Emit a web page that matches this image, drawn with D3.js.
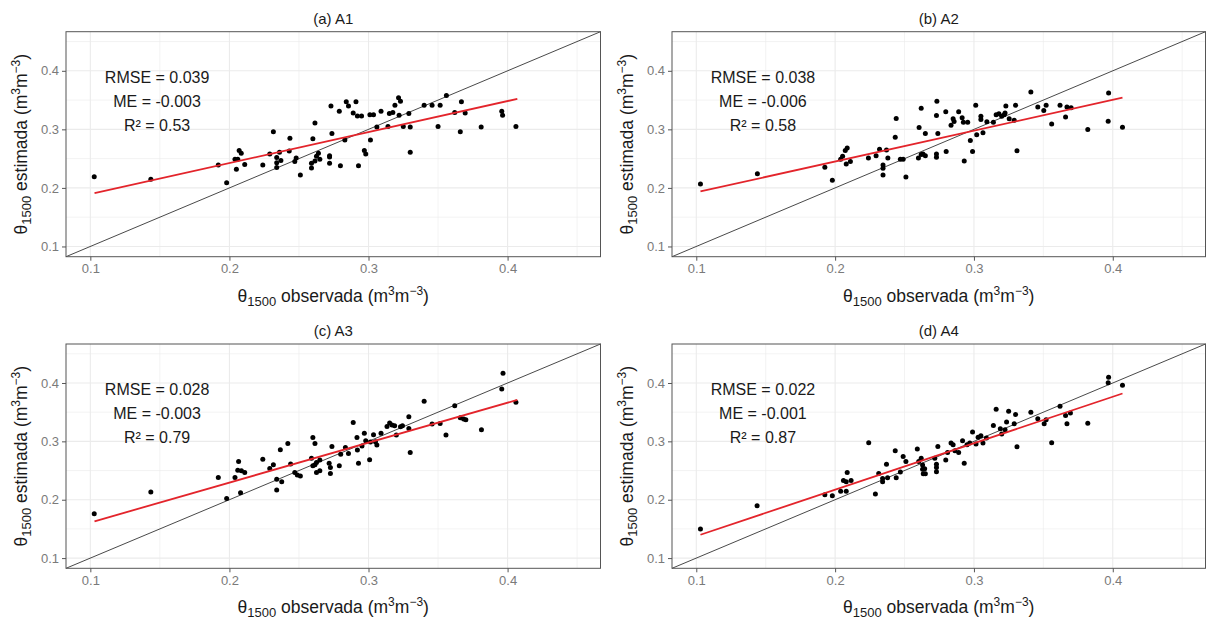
<!DOCTYPE html>
<html>
<head>
<meta charset="utf-8">
<script src="https://cdn.jsdelivr.net/npm/d3@7"></script>
<style>
  html, body { margin: 0; padding: 0; background: #ffffff; }
  svg { display: block; font-family: "Liberation Sans", Arial, sans-serif; }
</style>
</head>
<body>
<svg id="chart" width="1208" height="621"></svg>
<script>
// ---------------- DATA ----------------
const panelTitles = ["(a) A1", "(b) A2", "(c) A3", "(d) A4"];
const rmseValues = ["0.039", "0.038", "0.028", "0.022"];
const meValues = ["-0.003", "-0.006", "-0.003", "-0.001"];
const r2Values = ["0.53", "0.58", "0.79", "0.87"];
const majorTicks = [0.1, 0.2, 0.3, 0.4];
const minorTicks = [0.15, 0.25, 0.35, 0.45];
const tickLabels = ["0.1", "0.2", "0.3", "0.4"];

// fitted regression line (red): observed start/end and estimated values at those ends
const fitObs = [0.103, 0.407];
const fitStartEst = [0.191, 0.194, 0.163, 0.140];
const fitEndEst = [0.352, 0.354, 0.371, 0.382];

// Panel (a) A1
const a1Obs = [0.1028,0.1435,0.192,0.198,0.204,0.206,0.205,0.207,0.2085,0.211,0.224,0.229,0.2316,0.234,0.234,0.234,0.236,0.237,0.2435,0.243,0.247,0.248,0.251,0.260,0.259,0.2615,0.259,0.2615,0.2626,0.264,0.265,0.272,0.272,0.272,0.273,0.2737,0.279,0.2798,0.283,0.284,0.2856,0.289,0.291,0.292,0.295,0.2928,0.297,0.298,0.301,0.3036,0.3014,0.306,0.309,0.314,0.315,0.3175,0.319,0.3216,0.323,0.322,0.325,0.329,0.330,0.330,0.340,0.3457,0.350,0.3515,0.356,0.362,0.366,0.3668,0.3695,0.381,0.3958,0.3964,0.406];
const a1Est = [0.219,0.2147,0.239,0.209,0.249,0.249,0.232,0.264,0.259,0.240,0.239,0.258,0.296,0.252,0.243,0.235,0.261,0.247,0.285,0.263,0.245,0.251,0.222,0.284,0.242,0.311,0.234,0.246,0.254,0.259,0.249,0.255,0.253,0.242,0.340,0.293,0.331,0.238,0.282,0.347,0.340,0.328,0.347,0.323,0.323,0.238,0.264,0.258,0.325,0.325,0.282,0.304,0.331,0.305,0.327,0.329,0.341,0.354,0.348,0.324,0.305,0.327,0.304,0.261,0.341,0.341,0.305,0.341,0.358,0.329,0.296,0.347,0.328,0.304,0.331,0.324,0.305];

// Panel (b) A2
const a2Obs = [0.103,0.144,0.1926,0.198,0.204,0.2054,0.2073,0.2087,0.208,0.211,0.224,0.2295,0.232,0.2345,0.2345,0.2345,0.237,0.238,0.2433,0.244,0.247,0.249,0.251,0.260,0.262,0.2605,0.262,0.2633,0.265,0.265,0.273,0.2733,0.273,0.273,0.274,0.2797,0.280,0.2835,0.285,0.2857,0.289,0.2915,0.2924,0.2955,0.293,0.2974,0.299,0.3013,0.302,0.305,0.305,0.3065,0.3093,0.314,0.316,0.318,0.320,0.3218,0.3224,0.323,0.3254,0.329,0.330,0.331,0.341,0.346,0.3503,0.352,0.356,0.362,0.366,0.367,0.370,0.382,0.3967,0.397,0.407];
const a2Est = [0.2067,0.224,0.2353,0.213,0.249,0.254,0.264,0.268,0.241,0.245,0.251,0.255,0.266,0.239,0.2336,0.222,0.2646,0.251,0.2864,0.3185,0.249,0.249,0.2187,0.251,0.257,0.303,0.336,0.258,0.255,0.293,0.3237,0.348,0.258,0.2525,0.293,0.330,0.262,0.307,0.318,0.3134,0.330,0.320,0.312,0.312,0.246,0.281,0.262,0.341,0.291,0.3226,0.317,0.294,0.313,0.312,0.325,0.3266,0.3226,0.325,0.328,0.340,0.318,0.3157,0.341,0.2634,0.3638,0.338,0.332,0.341,0.309,0.341,0.321,0.338,0.337,0.2996,0.314,0.362,0.3036];

// Panel (c) A3
const a3Obs = [0.1028,0.1435,0.192,0.198,0.204,0.2066,0.206,0.2086,0.211,0.208,0.224,0.229,0.2316,0.234,0.234,0.2366,0.2376,0.242,0.244,0.247,0.2488,0.251,0.260,0.259,0.260,0.2615,0.2626,0.2615,0.2626,0.265,0.265,0.2717,0.2726,0.2726,0.2737,0.279,0.280,0.2834,0.2856,0.289,0.2917,0.292,0.2928,0.2953,0.297,0.298,0.3008,0.3014,0.3036,0.305,0.306,0.309,0.3133,0.3152,0.3169,0.3188,0.320,0.323,0.3244,0.329,0.329,0.330,0.340,0.3457,0.3515,0.3557,0.362,0.366,0.3684,0.370,0.3812,0.3958,0.3967,0.406];
const a3Est = [0.176,0.2134,0.238,0.202,0.238,0.2655,0.2506,0.2495,0.2466,0.212,0.2695,0.2535,0.260,0.235,0.2168,0.2855,0.2306,0.2964,0.261,0.2466,0.2425,0.2408,0.3065,0.271,0.258,0.2598,0.2638,0.2964,0.2466,0.2495,0.268,0.2626,0.255,0.245,0.2913,0.258,0.278,0.2896,0.2793,0.3325,0.3067,0.285,0.2626,0.292,0.314,0.301,0.2684,0.2988,0.3113,0.2993,0.2936,0.314,0.3256,0.3313,0.3279,0.3267,0.3107,0.325,0.3267,0.342,0.322,0.281,0.3685,0.3296,0.3307,0.3107,0.361,0.3405,0.3382,0.337,0.320,0.3897,0.4166,0.3668];

// Panel (d) A4
const a4Obs = [0.103,0.1438,0.1926,0.198,0.204,0.206,0.208,0.2087,0.208,0.2115,0.2242,0.229,0.2314,0.2342,0.2342,0.237,0.2378,0.2433,0.244,0.247,0.249,0.251,0.2592,0.2602,0.262,0.263,0.263,0.2635,0.265,0.2645,0.2718,0.273,0.273,0.273,0.274,0.2797,0.281,0.2835,0.285,0.2863,0.289,0.2918,0.293,0.295,0.297,0.299,0.3015,0.303,0.305,0.3065,0.309,0.314,0.316,0.319,0.320,0.3224,0.3235,0.325,0.329,0.330,0.331,0.341,0.346,0.3506,0.352,0.356,0.362,0.366,0.367,0.3695,0.382,0.3967,0.397,0.407];
const a4Est = [0.1497,0.1896,0.2087,0.207,0.2145,0.233,0.2306,0.2468,0.2145,0.233,0.2977,0.2098,0.245,0.2364,0.2306,0.2607,0.2376,0.2838,0.2376,0.2474,0.274,0.2653,0.2867,0.2653,0.271,0.2595,0.252,0.2445,0.2445,0.253,0.271,0.2607,0.255,0.248,0.2913,0.268,0.281,0.2971,0.2942,0.2838,0.281,0.3012,0.2624,0.2942,0.2971,0.3162,0.2954,0.3069,0.3098,0.2971,0.3058,0.3272,0.355,0.3214,0.3127,0.3197,0.333,0.3514,0.330,0.3462,0.2908,0.3497,0.3387,0.330,0.337,0.2977,0.360,0.3445,0.330,0.3486,0.3312,0.4006,0.4098,0.396];

const obsSeries = [a1Obs, a2Obs, a3Obs, a4Obs];
const estSeries = [a1Est, a2Est, a3Est, a4Est];

// ---------------- LAYOUT ----------------
const domain = [0.0825, 0.4668];
const panelBoxes = [
  {x0: 66,  x1: 600.5,  y0: 31.7, y1: 256.7},
  {x0: 672, x1: 1205.5, y0: 31.7, y1: 256.7},
  {x0: 66,  x1: 600.5,  y0: 344,  y1: 568.3},
  {x0: 672, x1: 1205.5, y0: 344,  y1: 568.3}
];
const annoX = 0.148;
const annoY = [0.389, 0.348, 0.307];

const svg = d3.select("#chart");
const gridColor = "#ebebeb";
const tickTextColor = "#7a7a7a";

function addAxisTitle(sel, main) {
  sel.append("tspan").text("θ");
  sel.append("tspan").attr("font-size", 13).attr("dy", 4).text("1500");
  sel.append("tspan").attr("dy", -4).text(" " + main + " (m");
  sel.append("tspan").attr("font-size", 12).attr("dy", -7).text("3");
  sel.append("tspan").attr("dy", 7).text("m");
  sel.append("tspan").attr("font-size", 12).attr("dy", -7).text("−3");
  sel.append("tspan").attr("dy", 7).text(")");
}

panelBoxes.forEach((b, i) => {
  const x = d3.scaleLinear().domain(domain).range([b.x0, b.x1]);
  const y = d3.scaleLinear().domain(domain).range([b.y1, b.y0]);
  const g = svg.append("g");

  // background grid
  const grid = g.append("g");
  grid.selectAll(".vminor").data(minorTicks).join("line")
    .attr("x1", d => x(d)).attr("x2", d => x(d))
    .attr("y1", b.y0).attr("y2", b.y1)
    .attr("stroke", gridColor).attr("stroke-width", 0.6);
  grid.selectAll(".hminor").data(minorTicks).join("line")
    .attr("y1", d => y(d)).attr("y2", d => y(d))
    .attr("x1", b.x0).attr("x2", b.x1)
    .attr("stroke", gridColor).attr("stroke-width", 0.6);
  grid.selectAll(".vmajor").data(majorTicks).join("line")
    .attr("x1", d => x(d)).attr("x2", d => x(d))
    .attr("y1", b.y0).attr("y2", b.y1)
    .attr("stroke", gridColor).attr("stroke-width", 1.1);
  grid.selectAll(".hmajor").data(majorTicks).join("line")
    .attr("y1", d => y(d)).attr("y2", d => y(d))
    .attr("x1", b.x0).attr("x2", b.x1)
    .attr("stroke", gridColor).attr("stroke-width", 1.1);

  // 1:1 line
  g.append("line")
    .attr("x1", x(domain[0])).attr("y1", y(domain[0]))
    .attr("x2", x(domain[1])).attr("y2", y(domain[1]))
    .attr("stroke", "#1a1a1a").attr("stroke-width", 0.8);

  // points
  const pts = obsSeries[i].map((v, k) => [v, estSeries[i][k]]);
  g.append("g").selectAll("circle").data(pts).join("circle")
    .attr("cx", d => x(d[0])).attr("cy", d => y(d[1]))
    .attr("r", 2.5).attr("fill", "#000");

  // regression line
  g.append("line")
    .attr("x1", x(fitObs[0])).attr("y1", y(fitStartEst[i]))
    .attr("x2", x(fitObs[1])).attr("y2", y(fitEndEst[i]))
    .attr("stroke", "#e3242b").attr("stroke-width", 1.8);

  // border
  g.append("rect")
    .attr("x", b.x0).attr("y", b.y0)
    .attr("width", b.x1 - b.x0).attr("height", b.y1 - b.y0)
    .attr("fill", "none").attr("stroke", "#555").attr("stroke-width", 1);

  // axes
  const xAxis = g.append("g").attr("transform", `translate(0,${b.y1})`)
    .call(d3.axisBottom(x).tickValues(majorTicks).tickFormat((d, k) => tickLabels[k]).tickSize(4).tickPadding(3));
  const yAxis = g.append("g").attr("transform", `translate(${b.x0},0)`)
    .call(d3.axisLeft(y).tickValues(majorTicks).tickFormat((d, k) => tickLabels[k]).tickSize(4).tickPadding(3));
  [xAxis, yAxis].forEach(a => {
    a.select(".domain").remove();
    a.selectAll(".tick line").attr("stroke", "#555");
    a.selectAll(".tick text").attr("fill", tickTextColor)
      .attr("font-size", 13).attr("font-family", "Liberation Sans, Arial, sans-serif");
  });

  // panel title
  g.append("text")
    .attr("x", (b.x0 + b.x1) / 2).attr("y", b.y0 - 8)
    .attr("text-anchor", "middle").attr("font-size", 15).attr("fill", "#1a1a1a")
    .text(panelTitles[i]);

  // annotations
  const annoTexts = ["RMSE = " + rmseValues[i], "ME = " + meValues[i], "R² = " + r2Values[i]];
  g.selectAll(".anno").data(annoTexts).join("text")
    .attr("x", x(annoX)).attr("y", (d, k) => y(annoY[k]))
    .attr("dy", "0.35em")
    .attr("text-anchor", "middle").attr("font-size", 16).attr("fill", "#1a1a1a")
    .text(d => d);

  // x axis title
  const xt = g.append("text")
    .attr("x", (b.x0 + b.x1) / 2).attr("y", b.y1 + 45)
    .attr("text-anchor", "middle").attr("font-size", 17.5).attr("fill", "#1a1a1a");
  addAxisTitle(xt, "observada");

  // y axis title
  const cx = b.x0 - 39, cy = (b.y0 + b.y1) / 2;
  const yt = g.append("text")
    .attr("transform", `translate(${cx},${cy}) rotate(-90)`)
    .attr("text-anchor", "middle").attr("font-size", 17.5).attr("fill", "#1a1a1a");
  addAxisTitle(yt, "estimada");
});
</script>
</body>
</html>
